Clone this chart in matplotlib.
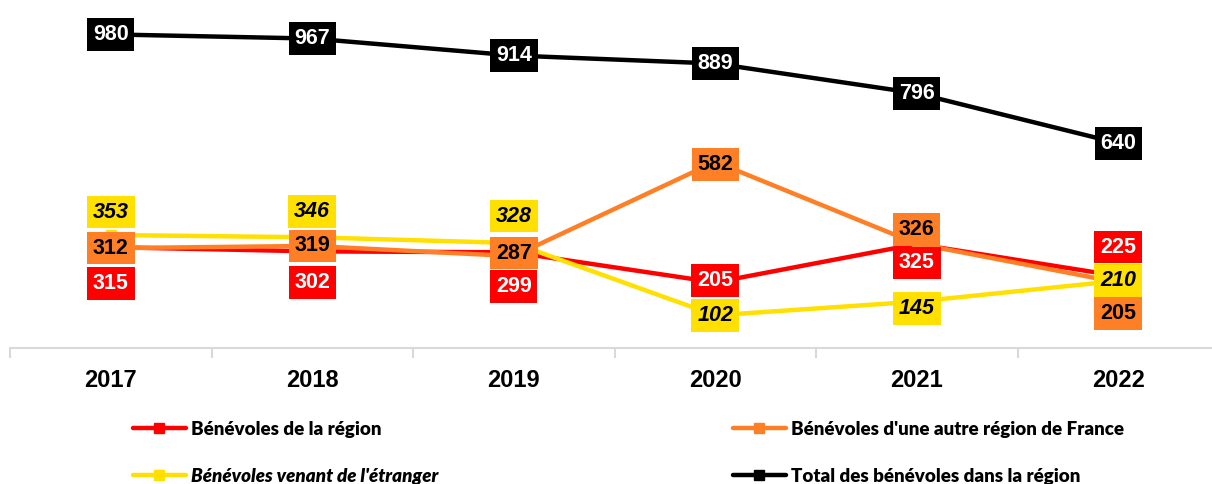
import matplotlib.pyplot as plt

years = ["2017", "2018", "2019", "2020", "2021", "2022"]
region = [315, 302, 299, 205, 325, 225]
autre_region = [312, 319, 287, 582, 326, 205]
etranger = [353, 346, 328, 102, 145, 210]
total = [980, 967, 914, 889, 796, 640]

names = ["Bénévoles de la région", "Bénévoles d'une autre région de France",
         "Bénévoles venant de l'étranger", "Total des bénévoles dans la région"]

RED = "#FF0000"
ORANGE = "#FF7F27"
YELLOW = "#FFE000"
BLACK = "#000000"

# label shifts (pixels, up is positive) so the boxes don't sit on top of each other
shift_red = [-36, -31, -34, 2, -19, 29]
shift_orange = [0, 0, 3, -3, 14, -31]
shift_yellow = [23, 26, 27, 0, -7, 0]
shift_black = [0, 0, 0, 0, 0, 0]

fig = plt.figure(figsize=(12.12, 4.84), dpi=100)
ax = fig.add_axes([10 / 1212, 1 - 348 / 484, 1209 / 1212, 320 / 484])

x = list(range(len(years)))
series = [
    (region, RED, "white", "normal", shift_red),
    (autre_region, ORANGE, "black", "normal", shift_orange),
    (etranger, YELLOW, "black", "italic", shift_yellow),
    (total, BLACK, "white", "normal", shift_black),
]

handles = []
for (vals, col, tcol, style, shifts), name in zip(series, names):
    ln, = ax.plot(x, vals, color=col, lw=3.2, marker="s", markersize=7,
                  solid_capstyle="round", label=name, zorder=2)
    handles.append(ln)

for vals, col, tcol, style, shifts in series:
    for xi, v, s in zip(x, vals, shifts):
        ax.annotate(str(v), (xi, v), xytext=(0, s), textcoords="offset pixels",
                    ha="center", va="center", fontsize=15.5, fontweight="bold",
                    fontstyle=style, color=tcol, family="Liberation Sans",
                    bbox=dict(boxstyle="square,pad=0.27", fc=col, ec="none"),
                    zorder=5)

ax.set_xlim(-0.5, 5.5)
ax.set_ylim(0, 1000)
ax.set_yticks([])
for sp in ["top", "right", "left"]:
    ax.spines[sp].set_visible(False)
ax.spines["bottom"].set_color("#D9D9D9")
ax.spines["bottom"].set_linewidth(1.5)

ax.set_xticks(x)
ax.set_xticklabels(years, fontsize=17, fontweight="bold", family="Liberation Sans")
ax.tick_params(axis="x", which="major", length=0, pad=15)
ax.set_xticks([i - 0.5 for i in range(len(years) + 1)], minor=True)
ax.tick_params(axis="x", which="minor", length=7, width=1.5, color="#D9D9D9")

leg_kw = dict(frameon=False, borderpad=0, borderaxespad=0, handlelength=2.8,
              handletextpad=0.3, labelspacing=1.6,
              prop={"family": "Lato", "weight": "heavy", "size": 13.5})
leg1 = fig.legend([handles[0], handles[2]], [names[0], names[2]], loc="upper left",
                  bbox_to_anchor=(133 / 1212, 1 - 421 / 484), **leg_kw)
leg2 = fig.legend([handles[1], handles[3]], [names[1], names[3]], loc="upper left",
                  bbox_to_anchor=(733 / 1212, 1 - 421 / 484), **leg_kw)
leg1.get_texts()[1].set_fontstyle("italic")

fig.savefig("out.png", dpi=100)
